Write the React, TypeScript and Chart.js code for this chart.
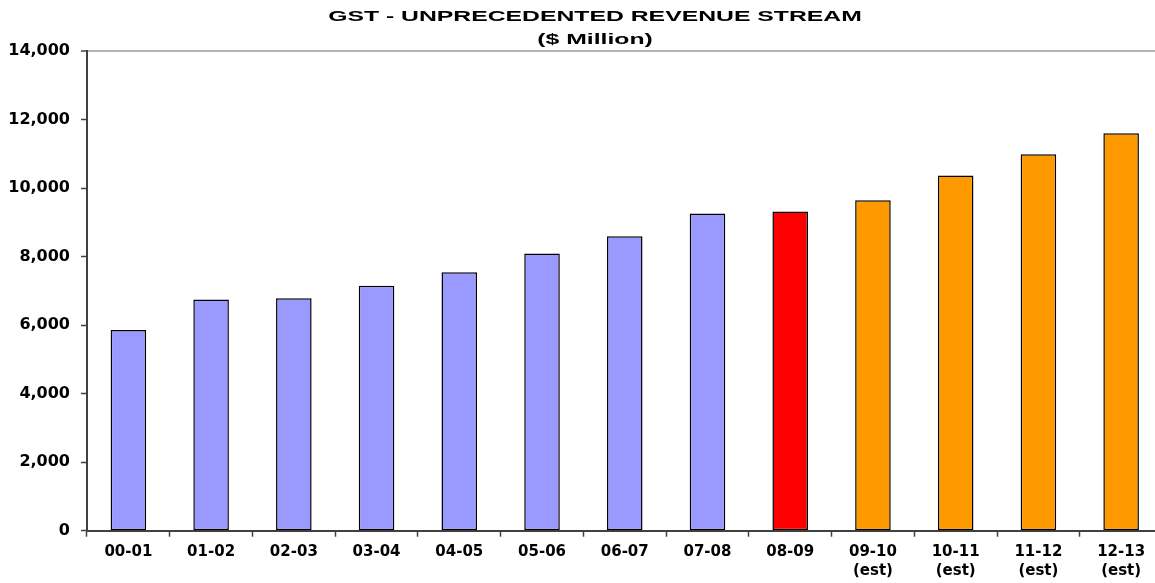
import React, { useEffect, useRef } from 'react';
import { Chart, registerables } from 'chart.js';

Chart.register(...registerables);

// ---- Data ----
const categories = ['00-01', '01-02', '02-03', '03-04', '04-05', '05-06', '06-07', '07-08', '08-09', '09-10', '10-11', '11-12', '12-13'];
const revenue = [5860, 6750, 6785, 7150, 7540, 8090, 8590, 9255, 9315, 9645, 10370, 10990, 11600];
const period = ['actual', 'actual', 'actual', 'actual', 'actual', 'actual', 'actual', 'actual', 'current', 'estimate', 'estimate', 'estimate', 'estimate'];
const estimateNote = '(est)';
const titleLines = ['GST - UNPRECEDENTED REVENUE STREAM', '($ Million)'];
const yMin = 0;
const yMax = 14000;
const yStep = 2000;

// ---- Styles ----
const periodColors: Record<string, string> = {
  actual: '#9999FF',
  current: '#FF0000',
  estimate: '#FF9900',
};
const FONT = 'DejaVu Sans';
const AXIS_COLOR = '#404040';

// Title drawn as horizontally stretched Arial-style bold text (like the reference)
const TITLE_FONT = 'bold 15px "Liberation Sans", Arial, sans-serif';
const TITLE_CENTER_X = 595;
const TITLE_BASELINES = [20.7, 44];
const TITLE_STRETCH = 1.65;

const stretchedTitle = {
  id: 'stretchedTitle',
  afterDraw(chart: any) {
    const ctx = chart.ctx as CanvasRenderingContext2D;
    ctx.save();
    ctx.fillStyle = '#000000';
    ctx.font = TITLE_FONT;
    ctx.textAlign = 'center';
    ctx.textBaseline = 'alphabetic';
    titleLines.forEach((line, i) => {
      ctx.save();
      ctx.translate(TITLE_CENTER_X, TITLE_BASELINES[i]);
      ctx.scale(TITLE_STRETCH, 1);
      ctx.fillText(line, 0, 0);
      ctx.restore();
    });
    ctx.restore();
  },
};

export default function App() {
  const ref = useRef<HTMLCanvasElement>(null);

  useEffect(() => {
    if (!ref.current) return;
    const labels = categories.map((c, i) => (period[i] === 'estimate' ? [c, estimateNote] : c));
    const chart = new Chart(ref.current, {
      type: 'bar',
      data: {
        labels,
        datasets: [
          {
            data: revenue,
            backgroundColor: period.map((p) => periodColors[p]),
            borderColor: '#000000',
            borderWidth: 1.5,
            borderSkipped: false,
            barPercentage: 0.43,
            categoryPercentage: 1,
          },
        ],
      },
      options: {
        responsive: true,
        maintainAspectRatio: false,
        animation: false,
        layout: { padding: { left: 0, right: 7.5, top: 51, bottom: 0 } },
        plugins: {
          legend: { display: false },
          tooltip: { enabled: false },
          title: { display: false },
        },
        scales: {
          x: {
            grid: {
              display: true,
              drawOnChartArea: false,
              tickLength: 6,
              tickColor: AXIS_COLOR,
              tickWidth: 1.5,
              offset: true,
            },
            border: { color: AXIS_COLOR, width: 2 },
            ticks: {
              color: '#000000',
              font: { family: FONT, weight: 'bold', size: 15, lineHeight: 1.27 },
              padding: 6,
              maxRotation: 0,
              autoSkip: false,
            },
            afterFit: (s: any) => {
              s.height = 52.3;
            },
          },
          y: {
            min: yMin,
            max: yMax,
            ticks: {
              stepSize: yStep,
              color: '#000000',
              font: { family: FONT, weight: 'bold', size: 16 },
              padding: 11,
              callback: (v: any) => Number(v).toLocaleString('en-US'),
            },
            grid: {
              color: (ctx: any) => (ctx.tick && ctx.tick.value === yMax ? '#b4b4b4' : 'rgba(0,0,0,0)'),
              lineWidth: (ctx: any) => (ctx.tick && ctx.tick.value === yMax ? 2 : 1),
              tickLength: 6,
              tickColor: AXIS_COLOR,
              tickWidth: 1.5,
            },
            border: { color: AXIS_COLOR, width: 2 },
            afterFit: (s: any) => {
              s.width = 87;
            },
          },
        },
      },
      plugins: [stretchedTitle],
    });
    return () => chart.destroy();
  }, []);

  return (
    <div style={{ position: 'absolute', left: 0, top: 0, width: 1155, height: 583, overflow: 'hidden', background: '#ffffff' }}>
      <div style={{ position: 'relative', width: 1170, height: 583 }}>
        <canvas ref={ref} />
      </div>
    </div>
  );
}
